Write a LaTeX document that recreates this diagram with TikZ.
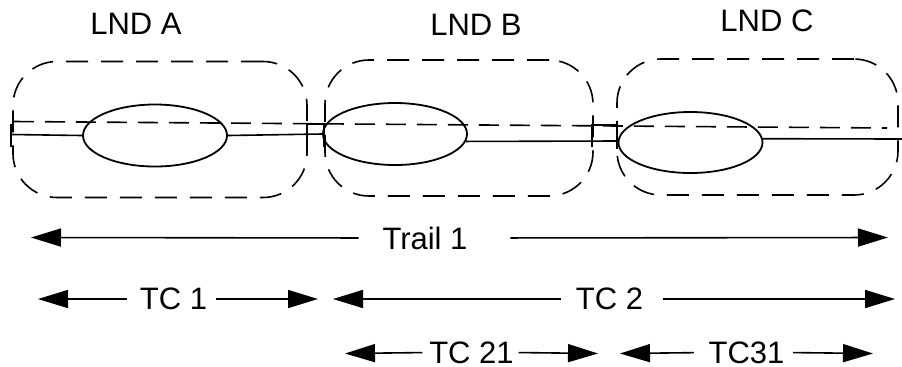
\documentclass[tikz,border=0pt]{standalone}
\usepackage{fontspec}
\setmainfont{Liberation Sans}
\usetikzlibrary{arrows.meta,positioning,shapes.geometric}

\begin{document}
\begin{tikzpicture}[x=0.5pt, y=-0.5pt, line width=0.8pt,
  every node/.style={font=\fontsize{15.5}{18}\selectfont, inner sep=0pt},
  lndbox/.style={draw, dash pattern=on 11pt off 6.5pt, rounded corners=22pt, minimum height=68pt},
  seg/.style={draw, line width=0.9pt, ellipse, minimum width=72pt, minimum height=31pt},
  span/.style={-{Triangle[length=15pt, width=9pt]}}]
  \useasboundingbox (0,0) rectangle (902,366);
  \node[lndbox, minimum width=147pt] (boxA) at (160,129.5) {};
  \node[lndbox, minimum width=134pt] (boxB) at (459,128) {};
  \node[lndbox, minimum width=140.5pt] (boxC) at (757.5,127) {};
  \node (lndA) at (136,24) {LND A};
  \node (lndB) at (476,25) {LND B};
  \node (lndC) at (767,21) {LND C};
  \node[seg] (segA) at (155,135.5) {};
  \node[seg] (segB) at (395,134) {};
  \node[seg, minimum height=30.5pt] (segC) at (690.5,142.5) {};
  \coordinate (trailStart) at (11,134.5);
  \coordinate (trailBC) at (617,141);
  \coordinate (trailEnd) at (902,139);
  \coordinate (dashL) at (14,121.5);
  \coordinate (dashR) at (887,128);
  \draw (trailStart) -- (segA.west);
  \draw (segA.east) -- (segB.west);
  \draw (segB.-6) -- (trailBC);
  \draw (segC.3) -- (trailEnd);
  \draw[dash pattern=on 10pt off 5.5pt] (dashL) -- (dashR);
  \foreach \x/\y in {11/135.5, 307/135, 324/135, 592/135, 617/137}
    \draw (\x,\y-11.5) -- (\x,\y+11.5);
  \draw (307,124) -- (324,124);
  \draw (592,125) -- (617,125);
  \node (trail) at (425,238) {Trail 1};
  \coordinate (trailL) at (31,237.5);
  \coordinate (trailR) at (888,237.5);
  \draw[span, shorten <=11.5pt] (trail.west) -- (trailL);
  \draw[span, shorten <=21pt] (trail.east) -- (trailR);
  \node (tc1) at (173.5,299) {TC 1};
  \coordinate (tc1L) at (38,299);
  \coordinate (tc1R) at (318,299);
  \draw[span, shorten <=6pt] (tc1.west) -- (tc1L);
  \draw[span, shorten <=4pt] (tc1.east) -- (tc1R);
  \node (tc2) at (609.5,299) {TC 2};
  \coordinate (tc2L) at (333,299);
  \coordinate (tc2R) at (895,299);
  \draw[span, shorten <=7pt] (tc2.west) -- (tc2L);
  \draw[span, shorten <=9.5pt] (tc2.east) -- (tc2R);
  \node (tc21) at (471.5,352.5) {TC 21};
  \coordinate (tc21L) at (345,353.5);
  \coordinate (tc21R) at (598,353.5);
  \draw[span, shorten <=3pt] (tc21.west) -- (tc21L);
  \draw[span, shorten <=2pt] (tc21.east) -- (tc21R);
  \node (tc31) at (746.5,352.5) {TC31};
  \coordinate (tc31L) at (620,353.5);
  \coordinate (tc31R) at (873,353.5);
  \draw[span, shorten <=7pt] (tc31.west) -- (tc31L);
  \draw[span, shorten <=4pt] (tc31.east) -- (tc31R);
\end{tikzpicture}
\end{document}
